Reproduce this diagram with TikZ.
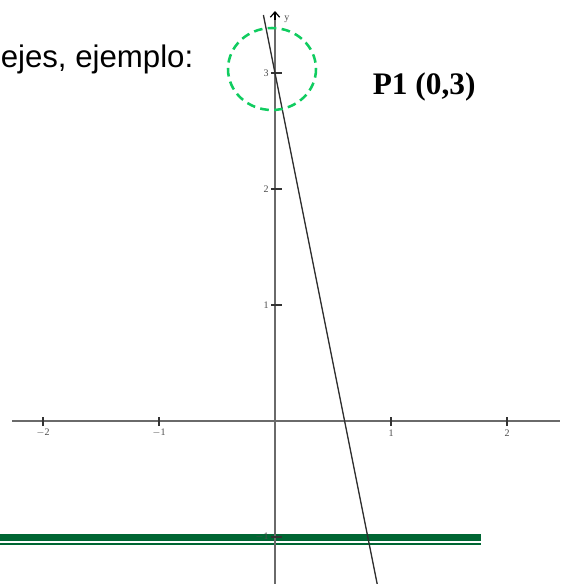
\documentclass[tikz,border=0pt]{standalone}
\usepackage{fontspec}
\setmainfont{Liberation Serif}
\newfontfamily\arialfont{Liberation Sans}
\usetikzlibrary{arrows.meta}
\definecolor{axisgray}{HTML}{6A6A6A}
\definecolor{linegray}{HTML}{2E2E2E}
\definecolor{barGreen}{HTML}{006633}
\definecolor{circGreen}{HTML}{10CC60}
\tikzset{
  axisline/.style={axisgray, line width=1.7pt},
  tickmark/.style={black!80, line width=1.1pt},
  ticklabel/.style={inner sep=0pt, text=black!70, font=\fontsize{7.5}{8}\selectfont},
  fnline/.style={linegray, line width=1.0pt},
}
\begin{document}
\begin{tikzpicture}[x=0.75pt,y=-0.75pt]
\useasboundingbox (0,0) rectangle (560,584);
% green rule
\fill[barGreen] (0,533.5) rectangle (481,540.5);
\fill[barGreen] (0,542.5) rectangle (481,544.5);
% axes
\coordinate (xl) at (12,421);
\coordinate (xr) at (560,421);
\coordinate (yb) at (275,584);
\coordinate (yt) at (275,11);
\draw[axisline] (xl) -- (xr);
\draw[axisline] (yb) -- (275,14);
\draw[black, line width=0.9pt, -{Straight Barb[length=4pt,width=7pt,line width=0.9pt]}] (275,20) -- (yt);
\node[ticklabel, anchor=west] (ylab) at (284,19) {y};
% x ticks
\foreach \v/\t in {-2/{$-$2},-1/{$-$1},1/1,2/2}{
  \coordinate (xt\v) at ({275+116*\v},421);
  \draw[tickmark] ([yshift=-5*0.75pt]xt\v) -- ([yshift=4*0.75pt]xt\v);
  \node[ticklabel] (xtl\v) at ({275+116*\v},433) {\t};
}
% y ticks
\foreach \v/\t in {-1/{$-$1},1/1,2/2,3/3}{
  \coordinate (yt\v) at (275,{421-116*\v});
  \draw[tickmark] ([xshift=-4*0.75pt]yt\v) -- ([xshift=7*0.75pt]yt\v);
  \node[ticklabel, anchor=east] (ytl\v) at (269,{421-116*\v}) {\t};
}
% function y = 3 - 5x
\coordinate (fa) at (263.4,15);
\coordinate (fb) at (377.2,584);
\draw[fnline] (fa) -- (fb);
% dashed circle
\coordinate (cc) at (272,69);
\draw[circGreen, line width=1.9pt, dash pattern=on 6.5pt off 4pt] (cc) ellipse [x radius=44, y radius=41];
% texts
\node[anchor=base west, inner sep=0pt, font=\arialfont\fontsize{23.4}{27}\selectfont] (txt) at (0.5,67.5) {ejes, ejemplo:};
\node[anchor=base west, inner sep=0pt, font=\bfseries\fontsize{23.5}{27}\selectfont] (p1) at (372.5,94.5) {P1 (0,3)};
\end{tikzpicture}
\end{document}
